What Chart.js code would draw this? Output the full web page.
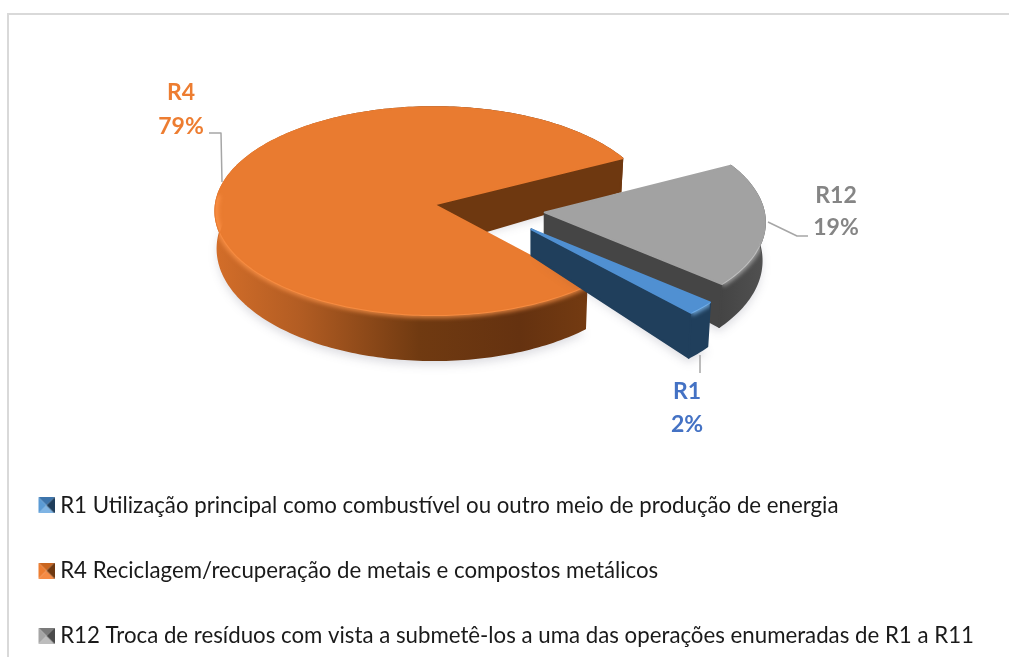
<!DOCTYPE html>
<html>
<head>
<meta charset="utf-8">
<style>
  html, body { margin: 0; padding: 0; background: #fff; overflow: hidden; }
  #frame { position: absolute; left: 7px; top: 13px; width: 1100px; height: 800px; border: 2px solid #d9d9d9; }
  #wrap { position: absolute; left: 0; top: 0; width: 1009px; height: 657px; }
</style>
</head>
<body>
<div id="frame"></div>
<div id="wrap"><canvas id="pieChart"></canvas></div>
<script src="https://cdn.jsdelivr.net/npm/chart.js@4"></script>
<script>
// ── Data ──────────────────────────────────────────────────────────────────
var codes = ['R1', 'R4', 'R12'];
var values = [2, 79, 19];
var legendLabels = [
  'R1 Utilização principal como combustível ou outro meio de produção de energia',
  'R4 Reciclagem/recuperação de metais e compostos metálicos',
  'R12 Troca de resíduos com vista a submetê-los a uma das operações enumeradas de R1 a R11'
];

// ── Look ──────────────────────────────────────────────────────────────────
var topCol   = ['#5090d2', '#e97b30', '#a2a2a2'];
var cutCol   = ['#203f5c', '#6e3810', '#454545'];
var labelCol = ['#4472c4', '#ed7d31', '#858585'];
var glowCol  = ['rgba(130,190,245,.8)', 'rgba(255,150,75,.75)', 'rgba(225,225,225,.55)'];
var glowFrom = [-0.1, -0.1, 0.3];
var sideStops = [
  [[0, '#203f5c'], [1, '#203f5c']],
  [[0, '#d26d29'], [0.2, '#b35d23'], [0.5, '#703a11'], [0.75, '#653210'], [1, '#7b3f12']],
  [[0, '#444444'], [1, '#505050']]
];
var swatchCol = [
  ['#3d74ab', '#7fb4e4', '#5b9bd5', '#1f3d5a'],
  ['#c9651f', '#f58b45', '#ed7d31', '#6e3810'],
  ['#7a7a7a', '#bdbdbd', '#a5a5a5', '#4a4a4a']
];

// pie flattening, perspective and how far each slice is pulled out
var stretchX = 0.967, stretchY = 0.459, persp = 0.0625, liftY = 21, shiftX = 70.5;
var pullU = [0.44, 0, 0.505];
var pullV = [0.235, 0, 0.075];
var apexDepth = [26, 42, 21];
var drawOrder = [1, 2, 0];

// label text centres and leader lines
var labelPos = [[687, 392, 425], [181, 93, 127], [836, 196, 228]];
var leaders = [
  [[700, 355], [700, 373]],
  [[209, 133], [221, 133], [222, 182]],
  [[768, 222], [797, 236], [808, 236]]
];

// ── 3D pie drawn from the arc elements ────────────────────────────────────
function makeSwatch(cols) {
  var c = document.createElement('canvas');
  c.width = 21; c.height = 16;
  var g = c.getContext('2d');
  var tri = [[5, 0, 21, 0], [5, 16, 21, 16], [5, 0, 5, 16], [21, 0, 21, 16]];
  tri.forEach(function(t, i) {
    g.fillStyle = cols[i];
    g.beginPath();
    g.moveTo(t[0], t[1]); g.lineTo(t[2], t[3]); g.lineTo(13, 8);
    g.closePath();
    g.fill();
  });
  return c;
}
var swatches = swatchCol.map(makeSwatch);

function project(el, u, v) {
  var f = 1 / (1 - persp * v);
  return {
    x: el.x - shiftX + el.outerRadius * stretchX * u * f,
    y: el.y - liftY + el.outerRadius * stretchY * v * f
  };
}

function rimPoints(el, idx, a0, a1) {
  var pts = [];
  var n = Math.max(2, Math.ceil(Math.abs(a1 - a0) / 0.02));
  for (var i = 0; i <= n; i++) {
    var a = a0 + (a1 - a0) * i / n;
    var p = project(el, Math.cos(a) + pullU[idx], Math.sin(a) + pullV[idx]);
    p.v = Math.sin(a) + pullV[idx];
    pts.push(p);
  }
  return pts;
}

function lower(el, p) {
  var cx = el.x - shiftX;
  return { x: cx + (p.x - cx) * 0.99, y: p.y + 37 + 8 * p.v };
}

function tracePath(ctx, pts) {
  ctx.beginPath();
  pts.forEach(function(p, i) { if (i) ctx.lineTo(p.x, p.y); else ctx.moveTo(p.x, p.y); });
  ctx.closePath();
}

function paintSlice(ctx, el, idx) {
  var rim = rimPoints(el, idx, el.startAngle, el.endAngle);
  var bottom = rim.map(function(p) { return lower(el, p); });
  var apex = project(el, pullU[idx], pullV[idx]);
  var apexLow = { x: apex.x, y: apex.y + apexDepth[idx] };
  var last = rim[rim.length - 1];
  var lastLow = bottom[bottom.length - 1];

  var xs = bottom.map(function(p) { return p.x; });
  var grad = ctx.createLinearGradient(Math.min.apply(null, xs), 0, Math.max.apply(null, xs), 0);
  sideStops[idx].forEach(function(s) { grad.addColorStop(s[0], s[1]); });

  // soft floor shadow
  ctx.save();
  ctx.filter = 'blur(5px)';
  ctx.fillStyle = 'rgba(40,40,70,0.16)';
  tracePath(ctx, bottom.map(function(p) { return { x: p.x, y: p.y + 5 }; }).concat([{ x: apexLow.x, y: apexLow.y }]));
  ctx.fill();
  ctx.restore();

  // outer wall
  var wall = rim.concat(bottom.slice().reverse());
  ctx.lineJoin = 'round';
  ctx.lineWidth = 2;
  ctx.fillStyle = grad;
  ctx.strokeStyle = grad;
  tracePath(ctx, wall);
  ctx.fill();
  ctx.stroke();

  // cut face that looks at the viewer
  var cut = [apex, last, lastLow, apexLow];
  ctx.fillStyle = cutCol[idx];
  ctx.strokeStyle = cutCol[idx];
  tracePath(ctx, cut);
  ctx.fill();
  ctx.stroke();

  // top face
  var top = [apex].concat(rim);
  ctx.fillStyle = topCol[idx];
  ctx.strokeStyle = topCol[idx];
  tracePath(ctx, top);
  ctx.fill();
  ctx.stroke();

  // bevel highlight along the front of the rim
  ctx.save();
  tracePath(ctx, wall);
  ctx.clip();
  ctx.filter = 'blur(2px)';
  ctx.strokeStyle = glowCol[idx];
  ctx.lineWidth = 6;
  ctx.beginPath();
  var seen = 0;
  rim.forEach(function(p, i) {
    var a = el.startAngle + (el.endAngle - el.startAngle) * i / (rim.length - 1);
    if (Math.sin(a) > glowFrom[idx]) {
      if (seen) ctx.lineTo(p.x, p.y); else ctx.moveTo(p.x, p.y);
      seen++;
    }
  });
  ctx.stroke();
  ctx.restore();
}

var pie3d = {
  id: 'pie3d',
  beforeDatasetsDraw: function(chart) {
    var ctx = chart.ctx;
    var arcs = chart.getDatasetMeta(0).data;
    ctx.save();
    drawOrder.forEach(function(i) { paintSlice(ctx, arcs[i], i); });

    // leader lines
    ctx.strokeStyle = '#a6a6a6';
    ctx.lineWidth = 1.5;
    leaders.forEach(function(line) {
      ctx.beginPath();
      line.forEach(function(p, i) { if (i) ctx.lineTo(p[0], p[1]); else ctx.moveTo(p[0], p[1]); });
      ctx.stroke();
    });

    // data labels
    var total = values.reduce(function(a, b) { return a + b; }, 0);
    ctx.font = 'bold 23px Lato';
    ctx.textAlign = 'center';
    ctx.textBaseline = 'middle';
    codes.forEach(function(code, i) {
      ctx.fillStyle = labelCol[i];
      ctx.fillText(code, labelPos[i][0], labelPos[i][1]);
      ctx.fillText(Math.round(values[i] / total * 100) + '%', labelPos[i][0], labelPos[i][2]);
    });
    ctx.restore();
    return false;
  }
};

new Chart(document.getElementById('pieChart'), {
  type: 'pie',
  data: {
    labels: legendLabels,
    datasets: [{ data: values, backgroundColor: topCol, borderWidth: 0 }]
  },
  plugins: [pie3d],
  options: {
    responsive: true,
    maintainAspectRatio: false,
    animation: false,
    rotation: 131,
    layout: { padding: { left: -4, right: 0, top: 0, bottom: 0 } },
    plugins: {
      tooltip: { enabled: false },
      legend: {
        position: 'bottom',
        align: 'start',
        labels: {
          usePointStyle: true,
          boxWidth: 10,
          padding: 43,
          color: '#1a1a1a',
          font: { family: 'Lato', size: 22.25 },
          generateLabels: function() {
            return legendLabels.map(function(t, i) {
              return { text: t, pointStyle: swatches[i], fontColor: '#1a1a1a', index: i, hidden: false, lineWidth: 0 };
            });
          }
        }
      }
    }
  }
});
</script>
</body>
</html>
